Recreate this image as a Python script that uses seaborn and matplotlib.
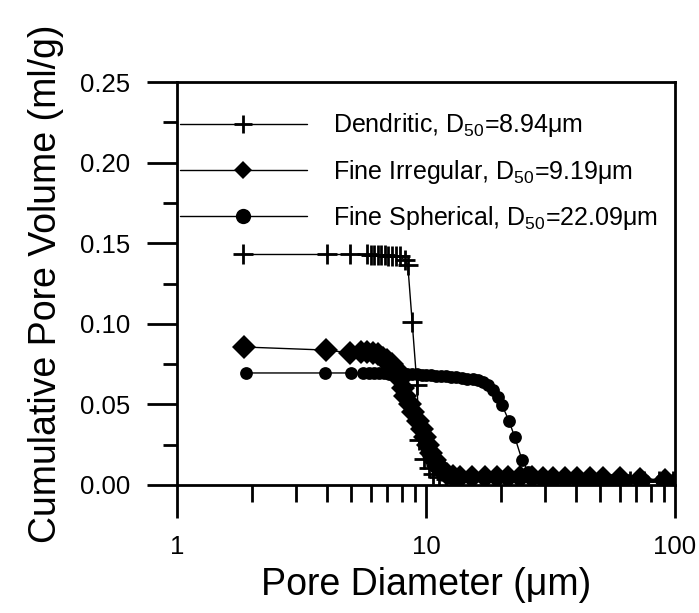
import matplotlib
matplotlib.use("Agg")
import matplotlib.pyplot as plt
import seaborn as sns
import numpy as np
from matplotlib.ticker import FixedLocator, LogLocator, NullFormatter

# ---------------- data ----------------
dend_x = [1.84, 4.0, 4.95, 5.8, 6.01, 6.18, 6.42, 6.6, 6.84, 7.04, 7.3, 7.58, 7.86,
          8.2, 8.45, 8.8, 9.2, 9.4, 9.8, 10.3, 10.7, 11.3, 12.0, 13.0, 14.0, 15.5,
          17.0, 19.0, 21.0, 23.5, 26.0, 29.0, 32.0, 36.0, 40.0, 45.0, 51.0, 58.0,
          66.0, 75.0, 86.0, 98.0]
dend_y = [0.143, 0.143, 0.143, 0.143, 0.1428, 0.1428, 0.1426, 0.1425, 0.1424, 0.1423,
          0.1421, 0.142, 0.1418, 0.1396, 0.1365, 0.101, 0.062, 0.028, 0.016, 0.0105,
          0.007, 0.005, 0.004, 0.0035, 0.0032, 0.003, 0.003, 0.0029, 0.0029, 0.0028,
          0.0028, 0.0027, 0.0027, 0.0026, 0.0026, 0.0025, 0.0025, 0.0024, 0.0024,
          0.0023, 0.0023, 0.0022]

irr_x = [1.86, 3.97, 4.95, 5.5, 5.8, 6.1, 6.4, 6.7, 7.0, 7.3, 7.6, 7.85, 8.05, 8.25,
         8.6, 8.9, 9.25, 9.6, 9.9, 10.15, 10.5, 10.85, 11.2, 11.6, 12.1, 12.8, 13.7,
         15.3, 17.3, 19.3, 21.3, 23.9, 26.6, 29.5, 32.4, 36.2, 40.4, 45.6, 51.4, 60.1,
         72.3, 91.2]
irr_y = [0.0856, 0.0837, 0.082, 0.0825, 0.0825, 0.082, 0.081, 0.079, 0.0775, 0.075,
         0.072, 0.066, 0.060, 0.055, 0.050, 0.045, 0.040, 0.035, 0.030, 0.025, 0.020,
         0.0155, 0.012, 0.009, 0.007, 0.0058, 0.005, 0.005, 0.005, 0.0048, 0.0048,
         0.0047, 0.0047, 0.0046, 0.0046, 0.0045, 0.0045, 0.0044, 0.0043, 0.0041,
         0.0038, 0.0033]

sph_x = [1.89, 3.93, 5.0, 5.6, 5.9, 6.2, 6.5, 6.8, 7.1, 7.4, 7.7, 8.0, 8.4, 8.8, 9.2,
         9.6, 10.0, 10.5, 11.0, 11.5, 12.0, 12.6, 13.2, 13.9, 14.6, 15.4, 16.2, 16.9,
         17.7, 18.6, 19.4, 20.2, 21.5, 22.7, 24.3, 25.8, 27.5, 30.0, 33.0, 37.0, 42.0,
         48.0, 55.0, 64.0, 75.0, 88.0, 98.0]
sph_y = [0.0695, 0.0695, 0.0695, 0.0694, 0.0693, 0.0693, 0.0692, 0.0692, 0.0691,
         0.069, 0.069, 0.0689, 0.0688, 0.0687, 0.0686, 0.0685, 0.0683, 0.0681, 0.0679,
         0.0677, 0.0675, 0.0672, 0.0669, 0.0665, 0.066, 0.0655, 0.065, 0.064, 0.062,
         0.059, 0.0548, 0.0496, 0.040, 0.030, 0.0155, 0.008, 0.005, 0.004, 0.0038,
         0.0036, 0.0035, 0.0034, 0.0033, 0.0032, 0.0031, 0.003, 0.003]

labels = ["Dendritic, D$_{50}$=8.94\u03bcm",
          "Fine Irregular, D$_{50}$=9.19\u03bcm",
          "Fine Spherical, D$_{50}$=22.09\u03bcm"]

y_ticks = [0.00, 0.05, 0.10, 0.15, 0.20, 0.25]
y_tick_labels = ["0.00", "0.05", "0.10", "0.15", "0.20", "0.25"]
x_ticks = [1, 10, 100]
x_tick_labels = ["1", "10", "100"]

# ---------------- style ----------------
sns.set_style("ticks")
plt.rcParams["font.family"] = ["Liberation Sans", "DejaVu Sans"]
plt.rcParams["mathtext.fontset"] = "custom"
plt.rcParams["mathtext.rm"] = "Liberation Sans"
plt.rcParams["mathtext.it"] = "Liberation Sans:italic"
plt.rcParams["mathtext.default"] = "regular"
for k in ["text.color", "axes.labelcolor", "xtick.color", "ytick.color",
          "axes.edgecolor"]:
    plt.rcParams[k] = "black"

fig = plt.figure(figsize=(6.99, 6.13), dpi=100)
ax = fig.add_axes([177 / 699, 1 - 485 / 613, (675 - 177) / 699, (485 - 82) / 613])

common = dict(color="black", linewidth=1.0, estimator=None, sort=False, ax=ax)
sns.lineplot(x=dend_x, y=dend_y, marker="+", markersize=14, markeredgewidth=2.0,
             markeredgecolor="black", label=labels[0], **common)
sns.lineplot(x=irr_x, y=irr_y, marker="D", markersize=12, markeredgewidth=0,
             markerfacecolor="black", label=labels[1], **common)
sns.lineplot(x=sph_x, y=sph_y, marker="o", markersize=9.2, markeredgewidth=0,
             markerfacecolor="black", label=labels[2], **common)

ax.set_xscale("log")
ax.set_xlim(1, 100)
ax.set_ylim(0, 0.25)

ax.xaxis.set_major_locator(FixedLocator(x_ticks))
ax.set_xticklabels(x_tick_labels)
ax.xaxis.set_minor_locator(LogLocator(base=10, subs=np.arange(2, 10)))
ax.xaxis.set_minor_formatter(NullFormatter())
ax.set_yticks(y_ticks)
ax.set_yticklabels(y_tick_labels)
ax.yaxis.set_minor_locator(FixedLocator([0.025, 0.075, 0.125, 0.175, 0.225]))

for s in ax.spines.values():
    s.set_linewidth(2.0)
    s.set_color("black")

ax.tick_params(axis="x", which="major", length=24, width=2.0, direction="out",
               labelsize=18.5, pad=12, colors="black")
ax.tick_params(axis="x", which="minor", length=12, width=2.0, direction="out")
ax.tick_params(axis="y", which="major", length=21.5, width=2.0, direction="out",
               labelsize=18.5, pad=12, colors="black")
ax.tick_params(axis="y", which="minor", length=10, width=2.0, direction="out")

ax.set_xlabel("Pore Diameter (\u03bcm)", fontsize=27, labelpad=6)
ax.set_ylabel("Cumulative Pore Volume (ml/g)", fontsize=27, labelpad=12)

leg = ax.legend(loc="upper left", bbox_to_anchor=(0.006, 0.927), frameon=False,
                fontsize=18, handlelength=5.08, handletextpad=1.04, labelspacing=0.73,
                borderpad=0, borderaxespad=0)
leg_sizes = [12.5, 9.5, 11]
for line, ms in zip(leg.get_lines(), leg_sizes):
    line.set_linewidth(1.0)
    line.set_markersize(ms)

fig.savefig("out.png", dpi=100)
